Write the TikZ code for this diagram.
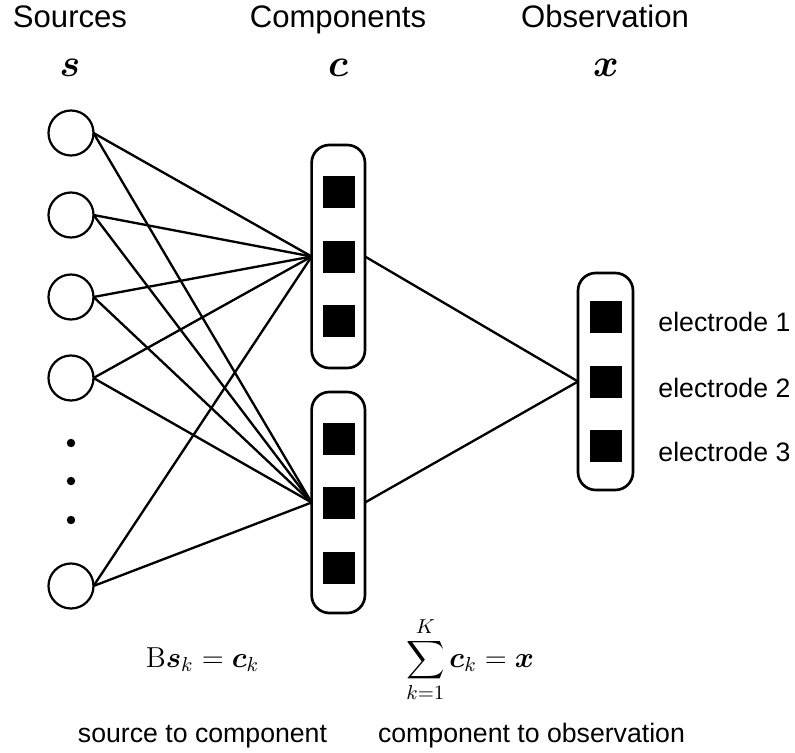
\RequirePackage{fix-cm}
\documentclass[tikz,border=0pt]{standalone}
\usepackage{amsmath}
\usepackage{bm}
\usepackage{fontspec}
\newfontfamily\labelfont{Liberation Sans}

\tikzset{
  src/.style={circle, draw, line width=1pt, minimum size=20.25pt, inner sep=0pt, outer sep=0pt},
  dotmark/.style={circle, fill=black, inner sep=0pt, minimum size=3.8pt},
  stack/.style={draw, line width=1.2pt, rounded corners=8pt, minimum width=24pt, inner sep=0pt, outer sep=0pt},
  cell/.style={fill=black, minimum size=14.4pt, inner sep=0pt},
  link/.style={line width=1.05pt},
  heading/.style={font=\labelfont\fontsize{14}{17}\selectfont, anchor=base, inner sep=0pt},
  caption/.style={font=\labelfont\fontsize{12}{14}\selectfont, anchor=base, inner sep=0pt},
  symb/.style={font=\fontsize{17.5}{21}\selectfont, anchor=base, inner sep=0pt},
  eqn/.style={font=\fontsize{13}{16}\selectfont, anchor=base, inner sep=0pt},
}

\begin{document}
\begin{tikzpicture}[x=0.45pt, y=-0.45pt]
  % canvas (pixel grid, y downwards)
  \useasboundingbox (0,0) rectangle (795,753);

  % column headings
  \node[heading] (hs) at (70,28) {Sources};
  \node[heading] (hc) at (338,28) {Components};
  \node[heading] (hx) at (605,28) {Observation};
  \node[symb] (ms) at (70,77) {$\bm{s}$};
  \node[symb] (mc) at (338,77) {$\bm{c}$};
  \node[symb] (mx) at (606,77) {$\bm{x}$};

  % sources
  \node[src] (s1) at (71,133) {};
  \node[src] (s2) at (71,215) {};
  \node[src] (s3) at (71,297) {};
  \node[src] (s4) at (71,378) {};
  \node[dotmark] (d1) at (71,443) {};
  \node[dotmark] (d2) at (71,481) {};
  \node[dotmark] (d3) at (71,520) {};
  \node[src] (s5) at (71,586) {};

  % component stacks
  \node[stack, minimum height=100.35pt] (ctop) at (338.3,256.5) {};
  \node[stack, minimum height=99.45pt] (cbot) at (338.3,502.5) {};
  \node[cell] (t1) at (339,191.7) {};
  \node[cell] (t2) at (339,257) {};
  \node[cell] (t3) at (339,321) {};
  \node[cell] (b1) at (339,438.7) {};
  \node[cell] (b2) at (339,502.7) {};
  \node[cell] (b3) at (339,567.7) {};

  % observation stack
  \node[stack, minimum width=24.75pt, minimum height=97.65pt] (obs) at (605.5,381.5) {};
  \node[cell] (o1) at (606,316.7) {};
  \node[cell] (o2) at (606,382) {};
  \node[cell] (o3) at (606,446) {};

  % electrode labels
  \node[caption, anchor=base west] (e1) at (658,331.5) {electrode 1};
  \node[caption, anchor=base west] (e2) at (658,397) {electrode 2};
  \node[caption, anchor=base west] (e3) at (658,461) {electrode 3};

  % source -> component links
  \foreach \s in {s1,s2,s3,s4,s5} {
    \draw[link] (\s.east) -- (ctop.west);
    \draw[link] (\s.east) -- (cbot.west);
  }

  % component -> observation links
  \draw[link] (ctop.east) -- (obs.west);
  \draw[link] (cbot.east) -- (obs.west);

  % equations and captions
  \node[eqn] (eq1) at (202.5,667) {$\mathrm{B}\bm{s}_k=\bm{c}_k$};
  \node[eqn] (eq2) at (470,667) {$\displaystyle\sum_{k=1}^{K}\bm{c}_k=\bm{x}$};
  \node[caption] (l1) at (202.5,742) {source to component};
  \node[caption] (l2) at (531.5,742) {component to observation};
\end{tikzpicture}
\end{document}
